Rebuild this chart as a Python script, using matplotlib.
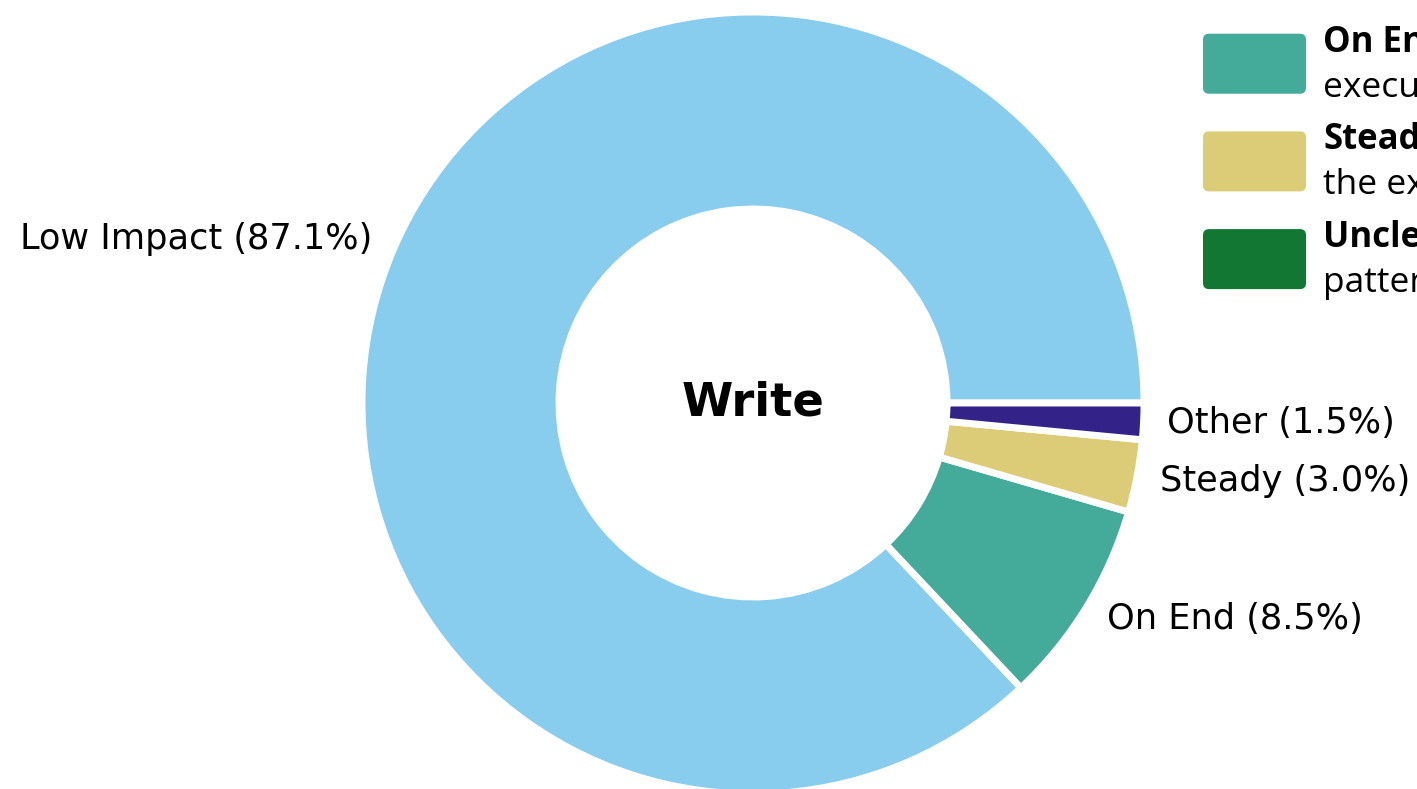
import numpy as np
import matplotlib.pyplot as plt
from matplotlib.patches import FancyBboxPatch

# slice data (counter-clockwise from 3 o'clock)
categories = ["Low Impact", "On End", "Steady", "Other"]
shares = [87.1, 8.5, 3.0, 1.5]
colors = ["#88CCEE", "#44AA99", "#DDCC77", "#332288"]

# legend entries: title, description, colour
legend_titles = ["Low Impact", "On End", "Steady", "Unclear"]
legend_descs = [
    "little effect on the write performance",
    "executes mostly at the end of the run",
    "the execution is spread evenly over time",
    "pattern could not be identified",
]
legend_colors = ["#88CCEE", "#44AA99", "#DDCC77", "#117733"]

W, H = 1417, 789
fig = plt.figure(figsize=(W / 100, H / 100), dpi=100)
ax = fig.add_axes([0, 0, 1, 1])

labels = [f"{c} ({v:.1f}%)" for c, v in zip(categories, shares)]
cx, cy = 753, H - 403
radius = 391
wedges, texts = ax.pie(shares, labels=labels, colors=colors, startangle=0,
                       counterclock=True, center=(cx, cy), radius=radius,
                       labeldistance=1.06, frame=True,
                       wedgeprops=dict(width=197, edgecolor="white", linewidth=5),
                       textprops=dict(fontsize=25.3, family="DejaVu Sans"))
# pie picks alignment from the sign of x, so fix it relative to the centre
for t in texts:
    x, _ = t.get_position()
    t.set_ha("left" if x > cx else "right")

ax.set_xlim(0, W)
ax.set_ylim(0, H)
ax.set_aspect("equal")
ax.axis("off")

ax.text(cx, cy, "Write", ha="center", va="center", fontsize=33.5,
        fontweight="bold", family="DejaVu Sans")

# manual legend, top right (first row sits above the canvas)
sw_x, sw_w, sw_h = 1203, 103, 60
first_top = -64
step = 97.7
for i, (t, d, c) in enumerate(zip(legend_titles, legend_descs, legend_colors)):
    top = first_top + i * step
    box = FancyBboxPatch((sw_x, H - top - sw_h), sw_w, sw_h,
                         boxstyle="round,pad=0,rounding_size=6",
                         facecolor=c, edgecolor="none", clip_on=False)
    ax.add_patch(box)
    ax.text(1323, H - (top + 18), t, ha="left", va="baseline", fontsize=25,
            fontweight="bold", family="Open Sans")
    ax.text(1323, H - (top + 63), d, ha="left", va="baseline", fontsize=25.5,
            family="Open Sans")

fig.savefig("out.png", dpi=100)
